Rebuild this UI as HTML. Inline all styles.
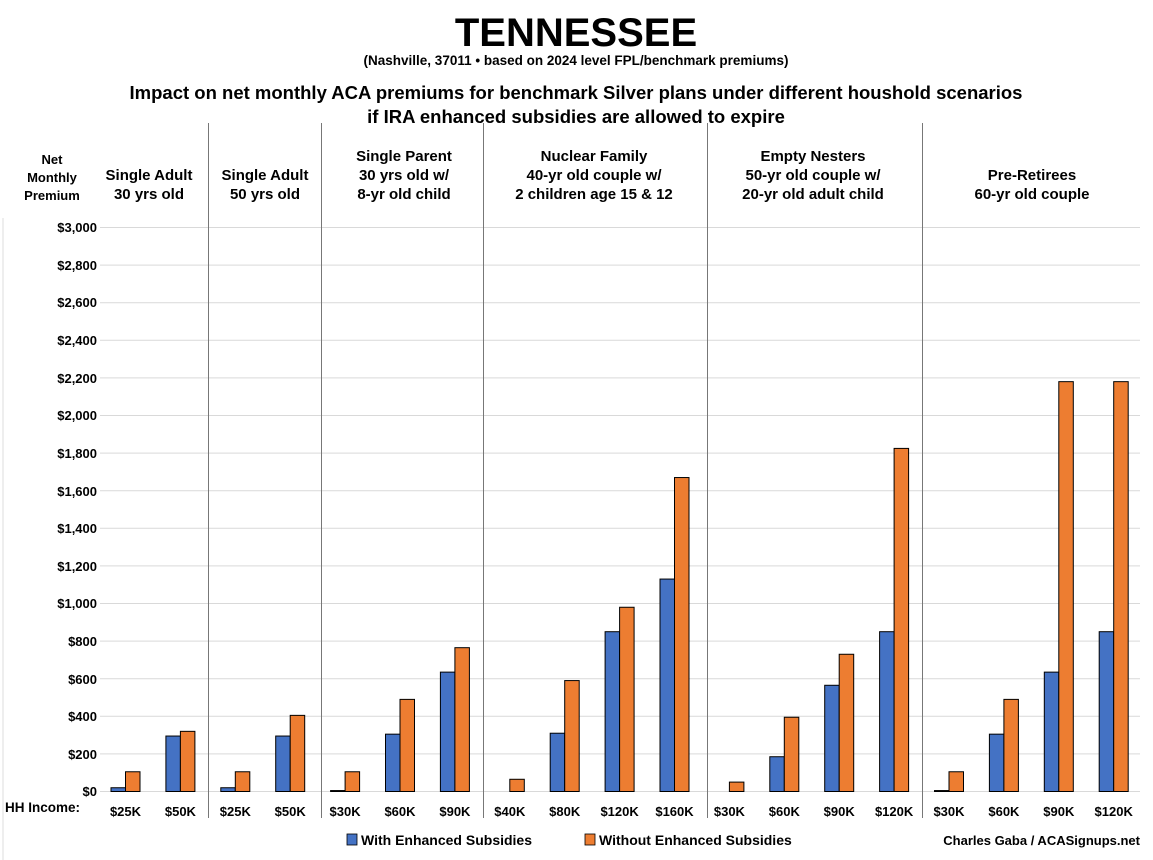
<!DOCTYPE html>
<html><head><meta charset="utf-8"><style>
html,body{margin:0;padding:0;background:#fff;}
svg{display:block;font-family:"Liberation Sans",sans-serif;font-weight:bold;}
</style></head><body>
<svg width="1153" height="860" viewBox="0 0 1153 860" xmlns="http://www.w3.org/2000/svg">
<rect width="1153" height="860" fill="#fff"/>
<text x="576" y="46" font-size="40" text-anchor="middle" fill="#000">TENNESSEE</text>
<text x="576" y="65" font-size="13.5" text-anchor="middle" fill="#000">(Nashville, 37011 • based on 2024 level FPL/benchmark premiums)</text>
<text x="576" y="99" font-size="18.5" text-anchor="middle" fill="#000">Impact on net monthly ACA premiums for benchmark Silver plans under different houshold scenarios</text>
<text x="576" y="123" font-size="18.5" text-anchor="middle" fill="#000">if IRA enhanced subsidies are allowed to expire</text>
<g font-size="13" text-anchor="middle" fill="#000">
<text x="52" y="164">Net</text><text x="52" y="182">Monthly</text><text x="52" y="200">Premium</text>
</g>
<g font-size="15" text-anchor="middle" fill="#000">
<text x="149" y="180">Single Adult</text><text x="149" y="199">30 yrs old</text>
<text x="265" y="180">Single Adult</text><text x="265" y="199">50 yrs old</text>
<text x="404" y="161">Single Parent</text><text x="404" y="180">30 yrs old w/</text><text x="404" y="199">8-yr old child</text>
<text x="594" y="161">Nuclear Family</text><text x="594" y="180">40-yr old couple w/</text><text x="594" y="199">2 children age 15 &amp; 12</text>
<text x="813" y="161">Empty Nesters</text><text x="813" y="180">50-yr old couple w/</text><text x="813" y="199">20-yr old adult child</text>
<text x="1032" y="180">Pre-Retirees</text><text x="1032" y="199">60-yr old couple</text>
</g>
<line x1="3" y1="218" x2="3" y2="860" stroke="#ddd" stroke-width="1"/>
<g stroke="#d9d9d9" stroke-width="1">
<line x1="100" x2="1140" y1="227.5" y2="227.5"/><line x1="100" x2="1140" y1="265.1" y2="265.1"/><line x1="100" x2="1140" y1="302.7" y2="302.7"/><line x1="100" x2="1140" y1="340.3" y2="340.3"/><line x1="100" x2="1140" y1="377.9" y2="377.9"/><line x1="100" x2="1140" y1="415.5" y2="415.5"/><line x1="100" x2="1140" y1="453.1" y2="453.1"/><line x1="100" x2="1140" y1="490.7" y2="490.7"/><line x1="100" x2="1140" y1="528.3" y2="528.3"/><line x1="100" x2="1140" y1="565.9" y2="565.9"/><line x1="100" x2="1140" y1="603.5" y2="603.5"/><line x1="100" x2="1140" y1="641.1" y2="641.1"/><line x1="100" x2="1140" y1="678.7" y2="678.7"/><line x1="100" x2="1140" y1="716.3" y2="716.3"/><line x1="100" x2="1140" y1="753.9" y2="753.9"/><line x1="100" x2="1140" y1="791.5" y2="791.5"/>
</g>
<g font-size="13" text-anchor="end" fill="#000">
<text x="97" y="232">$3,000</text><text x="97" y="270">$2,800</text><text x="97" y="307">$2,600</text><text x="97" y="345">$2,400</text><text x="97" y="383">$2,200</text><text x="97" y="420">$2,000</text><text x="97" y="458">$1,800</text><text x="97" y="496">$1,600</text><text x="97" y="533">$1,400</text><text x="97" y="571">$1,200</text><text x="97" y="608">$1,000</text><text x="97" y="646">$800</text><text x="97" y="684">$600</text><text x="97" y="721">$400</text><text x="97" y="759">$200</text><text x="97" y="796">$0</text>
</g>
<g stroke="#777" stroke-width="1">
<line x1="208.5" x2="208.5" y1="123" y2="818"/><line x1="321.5" x2="321.5" y1="123" y2="818"/><line x1="483.5" x2="483.5" y1="123" y2="818"/><line x1="707.5" x2="707.5" y1="123" y2="818"/><line x1="922.5" x2="922.5" y1="123" y2="818"/>
</g>
<g id="bars" stroke="#000" stroke-width="1"></g>
<g id="xl" font-size="13" text-anchor="middle" fill="#000"></g>
<text x="5" y="812" font-size="13.5" fill="#000">HH Income:</text>
<rect x="347" y="834" width="10" height="11" fill="#4472c4" stroke="#000" stroke-width="0.8"/>
<text x="361" y="845" font-size="14" fill="#000">With Enhanced Subsidies</text>
<rect x="585" y="834" width="10" height="11" fill="#ed7d31" stroke="#000" stroke-width="0.8"/>
<text x="599" y="845" font-size="14" fill="#000">Without Enhanced Subsidies</text>
<text x="1140" y="845" font-size="13" text-anchor="end" fill="#000">Charles Gaba / ACASignups.net</text>
<script>
var d=[["$25K",20,105],["$50K",295,320],["$25K",20,105],["$50K",295,405],["$30K",5,105],["$60K",305,490],["$90K",635,765],["$40K",0,65],["$80K",310,590],["$120K",850,980],["$160K",1130,1670],["$30K",0,50],["$60K",185,395],["$90K",565,730],["$120K",850,1825],["$30K",5,105],["$60K",305,490],["$90K",635,2180],["$120K",850,2180]];
var ns="http://www.w3.org/2000/svg",b=document.getElementById("bars"),xl=document.getElementById("xl");
var z=791.5,k=0.188;
d.forEach(function(r,i){var c=125.5+54.9*i;
[[r[1],c-14.5,"#4472c4"],[r[2],c,"#ed7d31"]].forEach(function(v){var h=v[0]*k;if(h<=0)return;var e=document.createElementNS(ns,"rect");e.setAttribute("x",v[1]);e.setAttribute("y",z-h);e.setAttribute("width",14.5);e.setAttribute("height",h);e.setAttribute("fill",v[2]);b.appendChild(e);});
var t=document.createElementNS(ns,"text");t.setAttribute("x",c);t.setAttribute("y",816);t.textContent=r[0];xl.appendChild(t);});
</script>
</svg>
</body></html>
